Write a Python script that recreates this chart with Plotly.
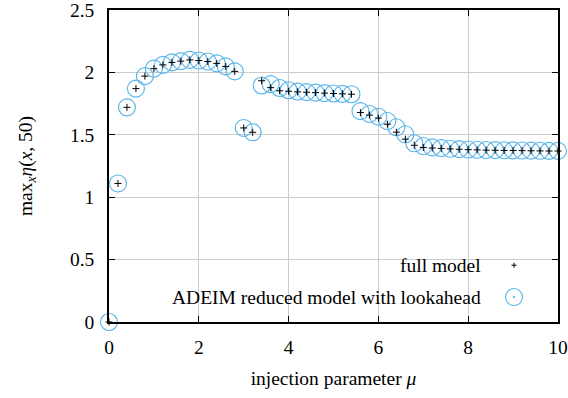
import plotly.graph_objects as go

mu = [0.0, 0.2, 0.4, 0.6, 0.8, 1.0, 1.2, 1.4, 1.6, 1.8,
      2.0, 2.2, 2.4, 2.6, 2.8, 3.0, 3.2, 3.4, 3.6, 3.8,
      4.0, 4.2, 4.4, 4.6, 4.8, 5.0, 5.2, 5.4, 5.6, 5.8,
      6.0, 6.2, 6.4, 6.6, 6.8, 7.0, 7.2, 7.4, 7.6, 7.8,
      8.0, 8.2, 8.4, 8.6, 8.8, 9.0, 9.2, 9.4, 9.6, 9.8, 10.0]

full_model = [0.0, 1.11, 1.72, 1.87, 1.97, 2.03, 2.06, 2.08, 2.09, 2.10,
              2.095, 2.087, 2.072, 2.048, 2.008, 1.555, 1.52, 1.933, 1.878, 1.853,
              1.849, 1.844, 1.841, 1.838, 1.834, 1.831, 1.828, 1.825, 1.678, 1.658,
              1.634, 1.585, 1.521, 1.465, 1.416, 1.398, 1.394, 1.391, 1.387, 1.384,
              1.381, 1.379, 1.377, 1.376, 1.375, 1.374, 1.373, 1.372, 1.371, 1.370, 1.370]

reduced_model = [0.0, 1.11, 1.72, 1.87, 1.97, 2.03, 2.06, 2.08, 2.09, 2.10,
                 2.095, 2.087, 2.072, 2.048, 2.008, 1.555, 1.52, 1.895, 1.906, 1.875,
                 1.857, 1.846, 1.842, 1.838, 1.834, 1.831, 1.828, 1.825, 1.690, 1.667,
                 1.645, 1.610, 1.560, 1.504, 1.432, 1.410, 1.399, 1.393, 1.388, 1.385,
                 1.382, 1.380, 1.378, 1.377, 1.376, 1.375, 1.374, 1.373, 1.372, 1.371, 1.371]

x_ticks = [0, 2, 4, 6, 8, 10]
y_ticks = [0, 0.5, 1, 1.5, 2, 2.5]
y_tick_labels = ["0", "0.5", "1", "1.5", "2", "2.5"]

FONT = "'Liberation Serif', 'Times New Roman', serif"
FS = 19.5
BLUE = "#56b4e9"

fig = go.Figure()
fig.add_trace(go.Scatter(
    x=mu, y=reduced_model, mode="markers", name="ADEIM reduced model with lookahead",
    marker=dict(symbol="circle-open", size=17, color=BLUE, line=dict(width=1.1, color=BLUE)),
    cliponaxis=False, showlegend=False))
fig.add_trace(go.Scatter(
    x=mu, y=full_model, mode="markers", name="full model",
    marker=dict(symbol="cross-thin", size=5, color="black", line=dict(width=1, color="black")),
    cliponaxis=False, showlegend=False))

axis_common = dict(
    showline=True, linecolor="black", linewidth=1.5, mirror="allticks",
    ticks="inside", ticklen=6, tickwidth=1, tickcolor="black",
    showgrid=True, gridcolor="#cccccc", gridwidth=1, zeroline=False,
    ticklabeloverflow="allow", automargin=False,
    tickfont=dict(family=FONT, size=FS, color="black"),
)

fig.update_xaxes(range=[0, 10], tickvals=x_ticks, ticktext=[str(v) for v in x_ticks],
                 ticklabelstandoff=7,
                 title=dict(text="injection parameter <i>μ</i>", font=dict(family=FONT, size=FS, color="black"),
                            standoff=14),
                 **axis_common)
fig.update_yaxes(range=[0, 2.5], tickvals=y_ticks, ticktext=y_tick_labels,
                 ticklabelstandoff=9,
                 title=dict(text="max<sub><i>x</i></sub><i>η</i>(<i>x</i>, 50)",
                            font=dict(family=FONT, size=FS, color="black"), standoff=32),
                 **axis_common)

# legend drawn gnuplot-style: text right-aligned, key on the right
LY1, LY2 = 0.182, 0.080
fig.add_annotation(x=0.833, y=LY1, xref="paper", yref="paper", xanchor="right", yanchor="middle",
                   text="full model", showarrow=False, font=dict(family=FONT, size=FS, color="black"))
fig.add_annotation(x=0.833, y=LY2, xref="paper", yref="paper", xanchor="right", yanchor="middle",
                   text="ADEIM reduced model with lookahead", showarrow=False,
                   font=dict(family=FONT, size=FS, color="black"))
# keys
PW, PH = 449, 312
kx = (514 - 109) / PW
fig.add_shape(type="line", xref="paper", yref="paper", x0=kx - 2.5 / PW, x1=kx + 2.5 / PW, y0=LY1, y1=LY1,
              line=dict(color="black", width=1))
fig.add_shape(type="line", xref="paper", yref="paper", x0=kx, x1=kx, y0=LY1 - 2.5 / PH, y1=LY1 + 2.5 / PH,
              line=dict(color="black", width=1))
fig.add_shape(type="circle", xref="paper", yref="paper",
              x0=kx - 8.5 / PW, x1=kx + 8.5 / PW, y0=LY2 - 8.5 / PH, y1=LY2 + 8.5 / PH,
              line=dict(color=BLUE, width=1.1))
fig.add_shape(type="circle", xref="paper", yref="paper",
              x0=kx - 0.8 / PW, x1=kx + 0.8 / PW, y0=LY2 - 0.8 / PH, y1=LY2 + 0.8 / PH,
              line=dict(color=BLUE, width=1), fillcolor=BLUE)

fig.update_layout(
    width=568, height=398,
    margin=dict(l=109, r=10, t=10, b=76),
    paper_bgcolor="white", plot_bgcolor="white",
    font=dict(family=FONT, size=FS, color="black"),
    showlegend=False,
)

fig.write_html("out.html")
